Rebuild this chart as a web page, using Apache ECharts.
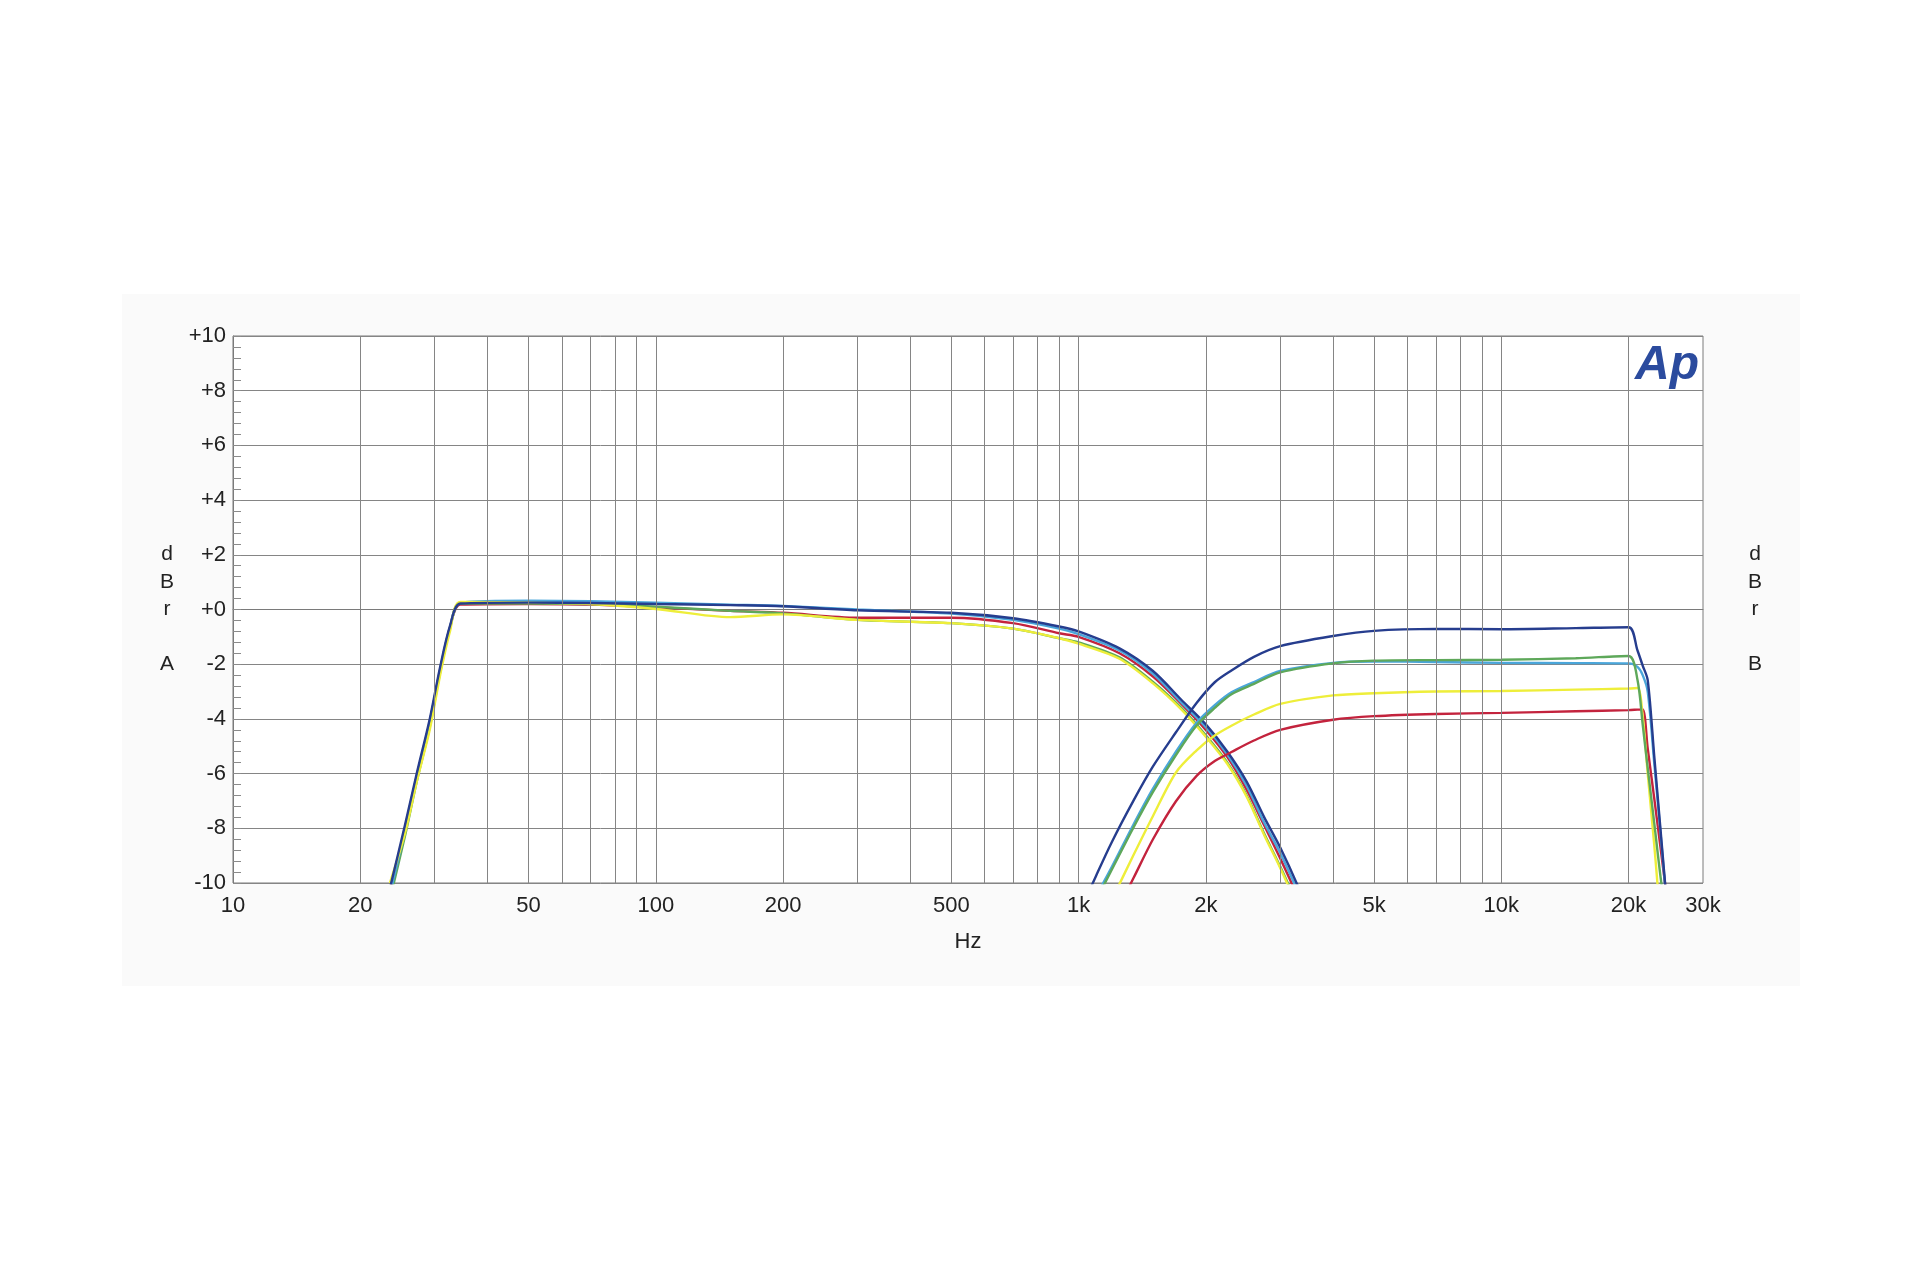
<!DOCTYPE html>
<html>
<head>
<meta charset="utf-8">
<script src="https://cdn.jsdelivr.net/npm/echarts@6/dist/echarts.min.js"></script>
<style>
html,body{margin:0;padding:0;background:#ffffff;}
#chart{width:1920px;height:1280px;}
</style>
</head>
<body>
<div id="chart"></div>
<script>
// ---------- DATA ----------
// Channel A (low-pass) frequencies, Hz
const FREQ_LP = [23.5, 25.5, 27.2, 29.2, 30.9, 32.6, 34.5, 50, 70, 100, 150, 200, 300, 500, 700, 900, 1000, 1250, 1500, 1750, 2000, 2250, 2500, 2750, 3000, 3300];
const LP_NAVY   = [-10.2, -7.9, -6.0, -4.0, -2.1, -0.6, 0.22, 0.25, 0.24, 0.2, 0.16, 0.12, -0.03, -0.12, -0.32, -0.62, -0.8, -1.42, -2.25, -3.3, -4.2, -5.2, -6.3, -7.6, -8.7, -10.1];
const LP_CYAN   = [-10.4, -8.1, -6.1, -4.1, -2.2, -0.65, 0.25, 0.32, 0.3, 0.25, 0.18, 0.13, 0.0, -0.15, -0.38, -0.7, -0.9, -1.5, -2.35, -3.4, -4.3, -5.3, -6.45, -7.8, -8.9, -10.3];
const LP_GREEN  = [-10.6, -8.3, -6.3, -4.3, -2.3, -0.7, 0.22, 0.22, 0.2, 0.1, -0.05, -0.14, -0.38, -0.5, -0.7, -1.05, -1.2, -1.75, -2.65, -3.6, -4.6, -5.6, -6.8, -8.2, -9.4, -10.8];
const LP_YELLOW = [-10.0, -8.2, -6.3, -4.4, -2.4, -0.8, 0.28, 0.25, 0.2, 0.02, -0.28, -0.18, -0.38, -0.5, -0.7, -1.05, -1.25, -1.8, -2.7, -3.65, -4.65, -5.65, -6.85, -8.25, -9.45, -10.9];
const LP_RED    = [-10.3, -8.0, -6.1, -4.1, -2.2, -0.65, 0.18, 0.2, 0.18, 0.08, -0.05, -0.12, -0.3, -0.3, -0.5, -0.87, -1.0, -1.6, -2.45, -3.45, -4.4, -5.4, -6.6, -7.9, -9.1, -10.5];

// Channel B (high-pass) frequencies, Hz
const FREQ_HP = [1000, 1100, 1200, 1350, 1500, 1700, 1900, 2100, 2300, 2600, 3000, 4000, 5000, 7000, 10000, 15000, 20000, 21000, 21600, 22200, 23000, 24000, 25000];
const HP_NAVY   = [-11.17, -9.74, -8.49, -6.98, -5.74, -4.49, -3.43, -2.66, -2.23, -1.73, -1.34, -0.97, -0.78, -0.71, -0.72, -0.68, -0.65, -1.5, -2.05, -2.58, -5.35, -8.7, -11.9];
const HP_CYAN   = [-11.8, -10.5, -9.4, -7.85, -6.55, -5.2, -4.15, -3.5, -3.03, -2.65, -2.25, -1.95, -1.9, -1.92, -1.95, -1.96, -1.97, -2.1, -2.4, -3.0, -5.6, -8.8, -12.0];
const HP_GREEN  = [-11.9, -10.64, -9.5, -7.96, -6.67, -5.32, -4.25, -3.6, -3.1, -2.72, -2.3, -1.97, -1.87, -1.85, -1.84, -1.78, -1.7, -2.58, -4.2, -5.8, -7.8, -10.2, -12.0];
const HP_YELLOW = [-13.0, -11.8, -10.6, -8.97, -7.55, -5.96, -5.16, -4.61, -4.25, -3.84, -3.45, -3.14, -3.06, -3.0, -2.98, -2.93, -2.89, -2.87, -3.9, -6.0, -8.6, -11.9, -14.0];
const HP_RED    = [-14.0, -12.6, -11.4, -9.81, -8.4, -7.01, -6.09, -5.54, -5.21, -4.79, -4.4, -4.03, -3.9, -3.82, -3.78, -3.72, -3.68, -3.66, -3.65, -5.08, -6.9, -9.14, -11.3];

const X_LABELS = [10, 20, 50, 100, 200, 500, 1000, 2000, 5000, 10000, 20000, 30000];
const X_GRID = [20, 30, 40, 50, 60, 70, 80, 90, 100, 200, 300, 400, 500, 600, 700, 800, 900, 1000,
                2000, 3000, 4000, 5000, 6000, 7000, 8000, 9000, 10000, 20000];

const COLORS = { navy: '#263d8e', cyan: '#4aa6da', green: '#5ea85a', yellow: '#eeee3a', red: '#c3233d' };

// ---------- CHART ----------
const chart = echarts.init(document.getElementById('chart'));
const FONT = 'Liberation Sans, Arial, Helvetica, sans-serif';

function pairs(xs, ys) { return xs.map((x, i) => [x, ys[i]]); }
function curve(name, xs, ys, color) {
  return {
    name: name, type: 'line', data: pairs(xs, ys), showSymbol: false, symbol: 'none',
    smooth: 0.3, clip: true, silent: true,
    lineStyle: { color: color, width: 2.4 }, itemStyle: { color: color }
  };
}

const option = {
  animation: false,
  backgroundColor: '#ffffff',
  graphic: [
    { type: 'rect', z: -10, shape: { x: 122, y: 294, width: 1678, height: 692 }, style: { fill: '#fafafa' } },
    { type: 'text', x: 167, y: 541, style: { text: 'd\nB\nr\n\nA', font: '21px ' + FONT, fill: '#222', align: 'center', lineHeight: 27.3 } },
    { type: 'text', x: 1755, y: 541, style: { text: 'd\nB\nr\n\nB', font: '21px ' + FONT, fill: '#222', align: 'center', lineHeight: 27.3 } },
    { type: 'text', x: 1699, y: 342, z: 100, style: { text: 'Ap', font: 'italic bold 48px ' + FONT, fill: '#2b4b9e', align: 'right', verticalAlign: 'top', stroke: '#ffffff', lineWidth: 1 } }
  ],
  grid: { left: 233, top: 336, width: 1470, height: 547, show: true, backgroundColor: '#ffffff', borderColor: '#7a7a7a', borderWidth: 1 },
  xAxis: {
    type: 'log', logBase: 10, min: 10, max: 30000,
    name: 'Hz', nameLocation: 'middle', nameGap: 48,
    nameTextStyle: { fontFamily: FONT, fontSize: 22, color: '#222' },
    axisLine: { show: true, lineStyle: { color: '#7a7a7a' } },
    axisTick: { show: false },
    splitLine: { show: false },
    minorTick: { show: false },
    axisLabel: {
      show: true, customValues: X_LABELS, margin: 12, fontFamily: FONT, fontSize: 22, color: '#222',
      showMinLabel: true, showMaxLabel: true,
      formatter: function (v) { return v >= 1000 ? (v / 1000) + 'k' : String(v); }
    }
  },
  yAxis: {
    type: 'value', min: -10, max: 10, interval: 2,
    axisLine: { show: true, lineStyle: { color: '#7a7a7a' } },
    axisTick: { show: true, inside: true, length: 8, lineStyle: { color: '#8a8a8a' } },
    minorTick: { show: true, splitNumber: 5, length: 8, lineStyle: { color: '#8a8a8a' } },
    splitLine: { show: true, lineStyle: { color: '#858585', width: 1 } },
    axisLabel: {
      margin: 7, fontFamily: FONT, fontSize: 22, color: '#222',
      formatter: function (v) { return v >= 0 ? '+' + v : String(v); }
    }
  },
  series: [
    {
      name: 'grid', type: 'line', data: [], silent: true,
      markLine: {
        silent: true, symbol: ['none', 'none'], animation: false,
        label: { show: false },
        lineStyle: { color: '#858585', width: 1, type: 'solid' },
        emphasis: { disabled: true },
        data: X_GRID.map(v => ({ xAxis: v }))
      }
    },
    curve('A red', FREQ_LP, LP_RED, COLORS.red),
    curve('A green', FREQ_LP, LP_GREEN, COLORS.green),
    curve('A cyan', FREQ_LP, LP_CYAN, COLORS.cyan),
    curve('A yellow', FREQ_LP, LP_YELLOW, COLORS.yellow),
    curve('A navy', FREQ_LP, LP_NAVY, COLORS.navy),
    curve('B red', FREQ_HP, HP_RED, COLORS.red),
    curve('B yellow', FREQ_HP, HP_YELLOW, COLORS.yellow),
    curve('B cyan', FREQ_HP, HP_CYAN, COLORS.cyan),
    curve('B green', FREQ_HP, HP_GREEN, COLORS.green),
    curve('B navy', FREQ_HP, HP_NAVY, COLORS.navy)
  ]
};
chart.setOption(option);
</script>
</body>
</html>
